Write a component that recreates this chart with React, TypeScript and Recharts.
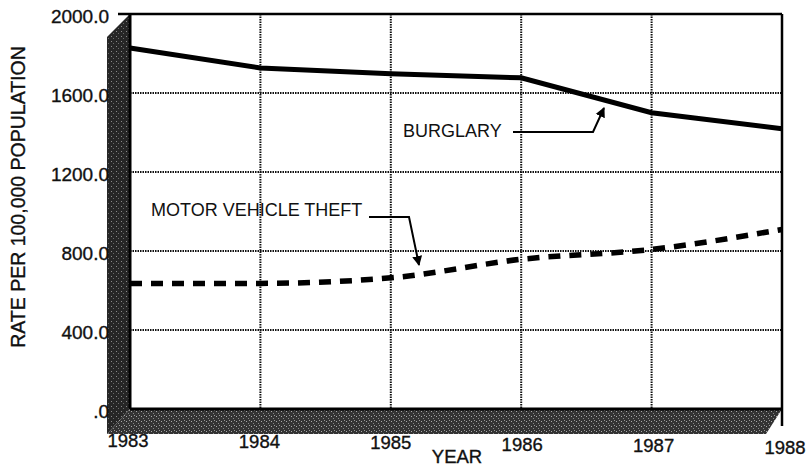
import React from 'react';
import { LineChart, Line, XAxis, YAxis, CartesianGrid } from 'recharts';

// ---- data ----
const years = [1983, 1984, 1985, 1986, 1987, 1988];
const burglary = [1828, 1727, 1697, 1677, 1500, 1419];
const motorVehicleTheft = [636, 636, 664, 758, 808, 909];
const yTicks = [0, 400, 800, 1200, 1600, 2000];
const xTicks = years;
const yAxisTitle = 'RATE PER 100,000 POPULATION';
const xAxisTitle = 'YEAR';
const burglaryLabel = 'BURGLARY';
const mvtLabel = 'MOTOR VEHICLE THEFT';

const data = years.map((year, i) => ({
  year,
  burglary: burglary[i],
  mvt: motorVehicleTheft[i],
}));

// ---- layout ----
const W = 806;
const H = 469;
const MARGIN = { top: 14, right: 24, bottom: 0, left: 0 };
const Y_AXIS_W = 130;
const X_AXIS_H = 60;
const PL = MARGIN.left + Y_AXIS_W; // 130
const PR = W - MARGIN.right; // 782
const PT = MARGIN.top; // 14
const PB = H - X_AXIS_H; // 409
const DEPTH_X = 23;
const DEPTH_Y = 25;

const FONT = "'Liberation Sans', Arial, Helvetica, sans-serif";
const INK = '#111';
const textWeight = { stroke: INK, strokeWidth: 0.35 };

const YTick = (props: any) => {
  const { y, payload } = props;
  const v = payload.value as number;
  const label = v === 0 ? '.0' : v.toFixed(1);
  return (
    <text
      x={PL - 21}
      y={y + (v === 0 ? 2 : 2)}
      textAnchor="end"
      dominantBaseline="central"
      fontFamily={FONT}
      fontSize={19}
      fill={INK}
      {...textWeight}
    >
      {label}
    </text>
  );
};

const XTick = (props: any) => {
  const { x, payload, index } = props;
  return (
    <text
      x={x + (index - 2) * 1}
      y={PB + 31 + index * 1.4}
      textAnchor="middle"
      dominantBaseline="central"
      fontFamily={FONT}
      fontSize={18.5}
      fill={INK}
      {...textWeight}
    >
      {payload.value}
    </text>
  );
};

export default function App() {
  return (
    <div style={{ position: 'absolute', left: 0, top: 0, width: W, height: H, background: '#fff' }}>
      {/* back layer: 3D walls */}
      <svg width={W} height={H} style={{ position: 'absolute', left: 0, top: 0 }}>
        <defs>
          <pattern id="wallTex" width="5" height="5" patternUnits="userSpaceOnUse">
            <rect width="5" height="5" fill="#262626" />
            <rect x="1" y="1" width="1" height="1" fill="#8a8a8a" />
            <rect x="3" y="3" width="1" height="1" fill="#6a6a6a" />
          </pattern>
          <pattern id="floorTex" width="5" height="5" patternUnits="userSpaceOnUse">
            <rect width="5" height="5" fill="#333" />
            <rect x="1" y="1" width="1" height="1" fill="#aaa" />
            <rect x="3" y="3" width="1" height="1" fill="#888" />
            <rect x="4" y="0" width="1" height="1" fill="#999" />
          </pattern>
        </defs>
        <polygon
          points={`${PL - DEPTH_X},${PT + DEPTH_X} ${PL},${PT} ${PL},${PB} ${PL - DEPTH_X},${PB + DEPTH_Y}`}
          fill="url(#wallTex)"
        />
        <polygon
          points={`${PL},${PB} ${PR},${PB} ${PR - 16},${PB + DEPTH_Y} ${PL - DEPTH_X},${PB + DEPTH_Y}`}
          fill="url(#floorTex)"
        />
      </svg>

      <div style={{ position: 'absolute', left: 0, top: 0 }}>
        <LineChart width={W} height={H} data={data} margin={MARGIN}>
          <CartesianGrid
            stroke="#111"
            strokeWidth={2}
            strokeDasharray="1.5 1"
            horizontalValues={[400, 800, 1200, 1600]}
            verticalValues={[1984, 1985, 1986, 1987]}
          />
          <XAxis
            dataKey="year"
            type="number"
            domain={[1983, 1988]}
            ticks={xTicks}
            height={X_AXIS_H}
            axisLine={false}
            tickLine={false}
            tick={<XTick />}
            interval={0}
          />
          <YAxis
            type="number"
            domain={[0, 2000]}
            ticks={yTicks}
            width={Y_AXIS_W}
            axisLine={false}
            tickLine={false}
            tick={<YTick />}
            interval={0}
          />
          <Line
            type="linear"
            dataKey="burglary"
            stroke="#000"
            strokeWidth={5}
            dot={false}
            isAnimationActive={false}
          />
          <Line
            type="monotone"
            dataKey="mvt"
            stroke="#000"
            strokeWidth={5.5}
            strokeDasharray="12 9"
            dot={false}
            isAnimationActive={false}
          />
        </LineChart>
      </div>

      {/* front layer: frame, titles, annotations */}
      <svg width={W} height={H} style={{ position: 'absolute', left: 0, top: 0, pointerEvents: 'none' }}>
        <defs>
          <marker id="arrow" viewBox="0 0 10 10" refX="9" refY="5" markerWidth="5" markerHeight="6" orient="auto">
            <path d="M0,0 L10,5 L0,10 z" fill="#000" />
          </marker>
        </defs>
        {/* frame */}
        <line x1={PL - 12} y1={PT} x2={PR} y2={PT} stroke="#000" strokeWidth={2.5} />
        <line x1={PR} y1={PT} x2={PR} y2={PB + 17} stroke="#000" strokeWidth={2.5} />
        <line x1={PL} y1={PT} x2={PL} y2={PB} stroke="#000" strokeWidth={3} />
        <line x1={PL} y1={PB} x2={PR} y2={PB} stroke="#000" strokeWidth={3} />

        {/* axis titles */}
        <text
          x={0}
          y={0}
          transform={`translate(18, 197) rotate(-90)`}
          textAnchor="middle"
          dominantBaseline="central"
          fontFamily={FONT}
          fontSize={19.5}
          fill={INK}
          {...textWeight}
        >
          {yAxisTitle}
        </text>
        <text
          x={457}
          y={456}
          textAnchor="middle"
          dominantBaseline="central"
          fontFamily={FONT}
          fontSize={18.5}
          fill={INK}
          {...textWeight}
        >
          {xAxisTitle}
        </text>

        {/* annotations */}
        <text
          x={403}
          y={131}
          dominantBaseline="central"
          fontFamily={FONT}
          fontSize={18}
          fill={INK}
        >
          {burglaryLabel}
        </text>
        <polyline
          points="513,132 593,132 604,108"
          fill="none"
          stroke="#000"
          strokeWidth={2}
          markerEnd="url(#arrow)"
        />
        <text
          x={151}
          y={210}
          dominantBaseline="central"
          fontFamily={FONT}
          fontSize={18}
          fill={INK}
        >
          {mvtLabel}
        </text>
        <polyline
          points="369,217 409,217 419,265"
          fill="none"
          stroke="#000"
          strokeWidth={2}
          markerEnd="url(#arrow)"
        />
      </svg>
    </div>
  );
}
